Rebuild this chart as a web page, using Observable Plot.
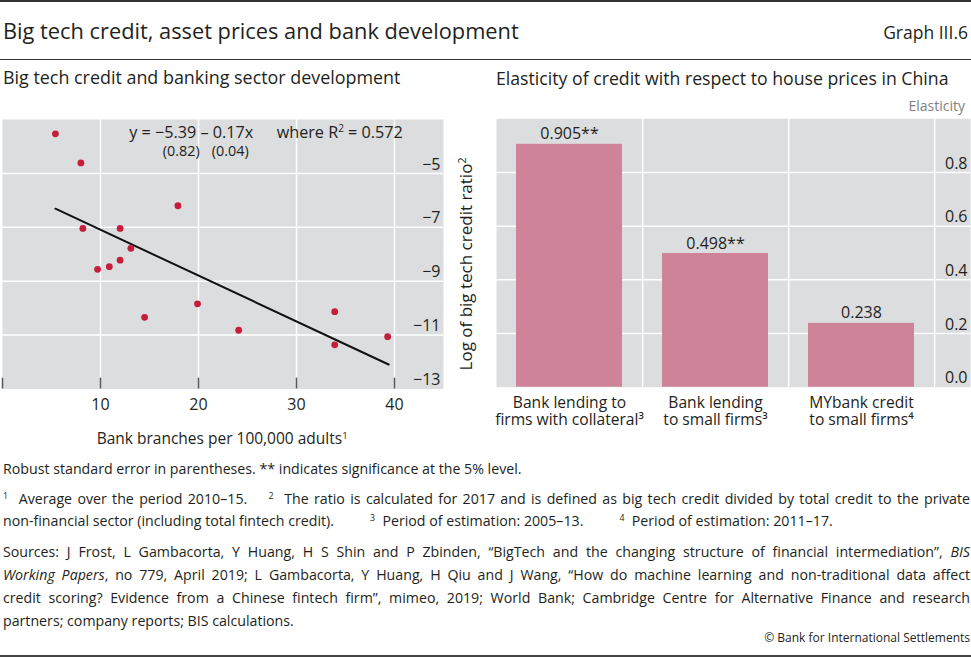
<!DOCTYPE html>
<html><head><meta charset="utf-8">
<script src="https://cdn.jsdelivr.net/npm/d3@7"></script>
<script src="https://cdn.jsdelivr.net/npm/@observablehq/plot@0.6"></script>
<style>
body{margin:0;background:#fff;font-family:"Open Sans",sans-serif;color:#231f20;}
#wrap{position:relative;width:971px;height:657px;overflow:hidden;}
.abs{position:absolute;white-space:nowrap;line-height:1;}
.rule{position:absolute;left:0;width:971px;}
.fn{position:absolute;left:3px;width:967px;font-size:14.2px;line-height:21.7px;}
.fn div{white-space:nowrap;}
.j{text-align:justify;text-align-last:justify;}
.gap{display:inline-block;width:36px;}
sup{font-size:0.62em;line-height:0;vertical-align:0.55em;}
#left,#right{position:absolute;top:100px;}
#left{left:0;}
#right{left:480px;}
</style></head><body><div id="wrap">
<div class="rule" style="top:0;height:1.5px;background:#333"></div>
<div class="abs" style="left:3px;top:20px;font-size:21.8px;color:#231f20">Big tech credit, asset prices and bank development</div>
<div class="abs" style="right:3px;top:23.8px;font-size:17.5px">Graph III.6</div>
<div class="rule" style="top:58.5px;height:1px;background:#333"></div>
<div class="abs" style="left:3px;top:69.4px;font-size:17.9px">Big tech credit and banking sector development</div>
<div class="abs" style="left:496px;top:69.5px;font-size:17.7px">Elasticity of credit with respect to house prices in China</div>
<div class="abs" style="right:6px;top:98.6px;font-size:14px;color:#808080">Elasticity</div>
<div id="left"></div>
<div id="right"></div>
<div class="abs" style="left:129.3px;top:124.1px;font-size:16.2px">y = −5.39 – 0.17x</div>
<div class="abs" style="left:276.7px;top:124.1px;font-size:16.2px">where R<sup>2</sup> = 0.572</div>
<div class="abs" style="left:162.7px;top:143.6px;font-size:14.4px">(0.82)</div>
<div class="abs" style="left:211.7px;top:143.6px;font-size:14.4px">(0.04)</div>
<div class="abs" style="left:465px;top:264px;font-size:17px;transform-origin:0 0;transform:rotate(-90deg) translate(-50%,-50%)">Log of big tech credit ratio<sup>2</sup></div>
<div class="abs" style="left:96.7px;top:431.2px;font-size:15.5px">Bank branches per 100,000 adults<sup>1</sup></div>
<div class="fn" style="top:458px"><div>Robust standard error in parentheses. ** indicates significance at the 5% level.</div></div>
<div class="fn" style="top:488px">
<div class="j"><sup>1</sup>&nbsp; Average over the period 2010–15. &nbsp;&nbsp; <sup>2</sup>&nbsp; The ratio is calculated for 2017 and is defined as big tech credit divided by total credit to the private</div>
<div>non-financial sector (including total fintech credit).<span class="gap"></span><sup>3</sup>&nbsp; Period of estimation: 2005–13.<span class="gap"></span><sup>4</sup>&nbsp; Period of estimation: 2011–17.</div>
</div>
<div class="fn" style="top:539.6px;line-height:23px">
<div class="j">Sources: J Frost, L Gambacorta, Y Huang, H S Shin and P Zbinden, “BigTech and the changing structure of financial intermediation”, <i>BIS</i></div>
<div class="j"><i>Working Papers</i>, no 779, April 2019; L Gambacorta, Y Huang, H Qiu and J Wang, “How do machine learning and non-traditional data affect</div>
<div class="j">credit scoring? Evidence from a Chinese fintech firm”, mimeo, 2019; World Bank; Cambridge Centre for Alternative Finance and research</div>
<div>partners; company reports; BIS calculations.</div>
</div>
<div class="abs" style="right:1px;top:632px;font-size:12px">© Bank for International Settlements</div>
<div class="rule" style="top:654.5px;height:2.5px;background:#444"></div>
</div>
<script>
// ---- Left panel data ----
const branches = [5.4, 8.0, 8.2, 9.7, 10.9, 12.0, 12.0, 13.1, 14.5, 17.9, 19.9, 24.1, 33.9, 33.9, 39.3];
const logRatio = [-3.53, -4.61, -7.04, -8.56, -8.46, -8.22, -7.04, -7.78, -10.34, -6.20, -9.84, -10.82, -10.13, -11.36, -11.06];
const fitX = [5.4, 39.4];
const fitY = [-6.31, -12.09];
const xTicks = [0, 10, 20, 30, 40];
const xTickLabels = [10, 20, 30, 40];
const yTicks = [-5, -7, -9, -11, -13];
const xDomain = [0, 45];
const yDomain = [-13, -3];

// ---- Right panel data ----
const categories = ["Bank lending to\nfirms with collateral³", "Bank lending\nto small firms³", "MYbank credit\nto small firms⁴"];
const elasticity = [0.905, 0.498, 0.238];
const valueLabels = ["0.905**", "0.498**", "0.238"];
const eTicks = [0, 0.2, 0.4, 0.6, 0.8];
const eDomain = [0, 1];

const BG = "#dcdddf", GRID = "#ffffff", TXT = "#231f20";
const font = {fontFamily: "'Open Sans', sans-serif", fontSize: "16px", color: TXT, background: "transparent", overflow: "visible"};

const points = branches.map((b, i) => ({x: b, y: logRatio[i]}));
const fit = fitX.map((x, i) => ({x, y: fitY[i]}));
const minus = d => (d < 0 ? "\u2212" : "") + Math.abs(d);

const left = Plot.plot({
  width: 480, height: 320,
  marginLeft: 2, marginRight: 37, marginTop: 19, marginBottom: 31.5,
  style: font,
  x: {domain: xDomain},
  y: {domain: yDomain, axis: null},
  marks: [
    Plot.frame({fill: BG, stroke: null}),
    Plot.ruleY(yTicks.filter(d => d > yDomain[0]), {y: d => d, stroke: GRID, strokeWidth: 1.5}),
    Plot.ruleX(xTicks.filter(d => d > xDomain[0]), {x: d => d, stroke: GRID, strokeWidth: 1.5}),
    Plot.ruleX(xTicks, {x: d => d, y1: yDomain[0], y2: yDomain[0] + 0.4, stroke: "#555", strokeWidth: 1.5}),
    Plot.axisX(xTickLabels, {tickSize: 0, tickPadding: 10, label: null, fontSize: 16, fill: TXT}),
    Plot.text(yTicks, {y: d => d, text: minus, frameAnchor: "right", textAnchor: "end", dx: -3, dy: -9, fontSize: 16, fill: TXT}),
    Plot.line(fit, {x: "x", y: "y", stroke: "#111", strokeWidth: 2}),
    Plot.dot(points, {x: "x", y: "y", r: 3.4, fill: "#c41e3a", stroke: null})
  ]
});
document.getElementById("left").appendChild(left);

const bars = categories.map((c, i) => ({cat: c, value: elasticity[i], label: valueLabels[i]}));
const rangeX = [15, 454];
const step = (rangeX[1] - rangeX[0]) / categories.length;

const right = Plot.plot({
  width: 491, height: 330,
  marginLeft: 16, marginRight: 1, marginTop: 18.3, marginBottom: 43.3,
  style: font,
  x: {type: "band", domain: categories, range: rangeX, paddingInner: 0.276, paddingOuter: 0.138},
  y: {domain: eDomain, axis: null},
  marks: [
    Plot.frame({fill: BG, stroke: null}),
    Plot.ruleY(eTicks.filter(d => d > 0), {y: d => d, stroke: GRID, strokeWidth: 1.5}),
    Plot.ruleX(categories, {x: d => d, dx: step / 2, stroke: GRID, strokeWidth: 1.5}),
    Plot.barY(bars, {x: "cat", y: "value", fill: "#ce8399"}),
    Plot.text(bars, {x: "cat", y: "value", text: "label", lineAnchor: "bottom", dy: -5, fontSize: 16, fill: TXT}),
    Plot.axisX({tickSize: 0, tickPadding: 9, label: null, fontSize: 15.6, lineHeight: 1.07, fill: TXT}),
    Plot.text(eTicks, {y: d => d, text: d => d.toFixed(1), frameAnchor: "right", textAnchor: "end", dx: -3, dy: -9, fontSize: 16, fill: TXT})
  ]
});
document.getElementById("right").appendChild(right);
</script>
</body></html>
